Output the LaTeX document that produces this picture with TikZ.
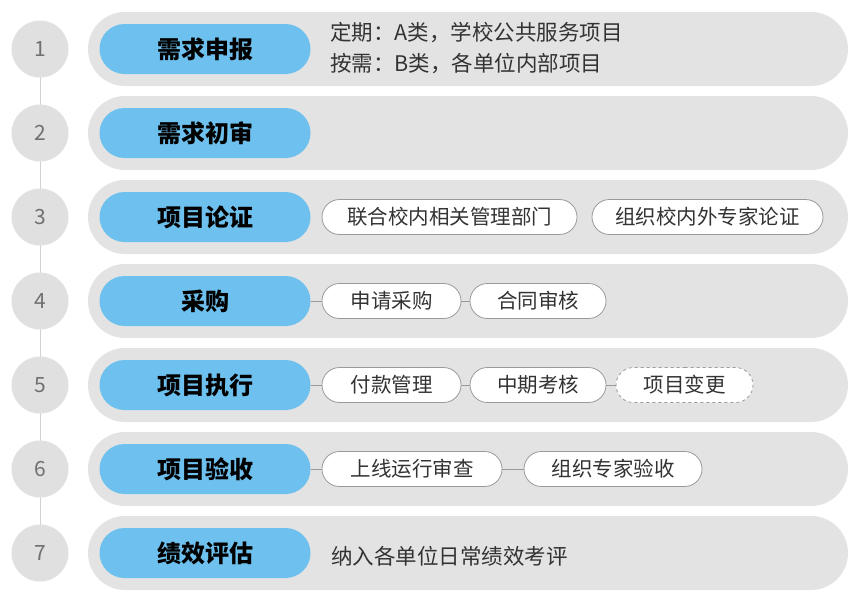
\documentclass[tikz,border=0pt]{standalone}
\usepackage{fontspec}
\setmainfont{Noto Sans CJK SC}
\usetikzlibrary{shapes.misc}
\definecolor{barfill}{HTML}{E3E3E3}
\definecolor{circfill}{HTML}{E0E0E0}
\definecolor{bluefill}{HTML}{6EC1EE}
\definecolor{pillline}{HTML}{9A9A9A}
\definecolor{txt}{HTML}{333333}
\definecolor{numtxt}{HTML}{707070}
\tikzset{
  bar/.style={rounded rectangle, fill=barfill, minimum width=760pt, minimum height=74pt, inner sep=0pt},
  numcirc/.style={circle, fill=circfill, minimum size=57pt, inner sep=0pt, text=numtxt, font=\fontsize{21}{25}\selectfont},
  stage/.style={rounded rectangle, fill=bluefill, minimum width=211pt, minimum height=50pt, inner sep=0pt, font=\bfseries\fontsize{24}{28}\selectfont, text=black},
  sub/.style={rounded rectangle, fill=white, draw=pillline, line width=0.8pt, minimum height=35pt, inner sep=0pt, font=\fontsize{20.5}{24}\selectfont, text=txt},
  subdash/.style={sub, dashed},
  note/.style={anchor=west, inner sep=0pt, font=\fontsize{21.5}{25}\selectfont, text=txt},
  link/.style={draw=pillline, line width=0.6pt},
  spine/.style={draw=circfill!85!gray, line width=1pt}
}
\begin{document}
\begin{tikzpicture}[x=1pt,y=-1pt]
\useasboundingbox (0,0) rectangle (857,603);
% spine
\coordinate (spTop) at (40,49);
\coordinate (spBot) at (40,553);
\draw[spine] (spTop) -- (spBot);
% rows
\foreach \i/\lab in {1/需求申报,2/需求初审,3/项目论证,4/采购,5/项目执行,6/项目验收,7/绩效评估}{
  \pgfmathsetmacro{\yy}{49+84*(\i-1)}
  \node[bar] (bar\i) at (468,\yy) {};
  \node[numcirc] (num\i) at (40,\yy) {\i};
  \node[stage] (st\i) at (205,\yy) {\lab};
}
% row 1
\node[note] (n1a) at (330,33) {定期：A类，学校公共服务项目};
\node[note] (n1b) at (330,64) {按需：B类，各单位内部项目};
% row 3
\node[sub, minimum width=255pt] (p3a) at (449.5,217) {联合校内相关管理部门};
\node[sub, minimum width=231pt] (p3b) at (707.5,217) {组织校内外专家论证};
% row 4
\node[sub, minimum width=139pt] (p4a) at (391.5,301) {申请采购};
\node[sub, minimum width=136pt] (p4b) at (538,301) {合同审核};
\draw[link] (st4.east) -- (p4a.west);
\draw[link] (p4a.east) -- (p4b.west);
% row 5
\node[sub, minimum width=139pt] (p5a) at (391.5,385) {付款管理};
\node[sub, minimum width=136pt] (p5b) at (538,385) {中期考核};
\node[subdash, minimum width=137pt] (p5c) at (684.5,385) {项目变更};
\draw[link] (st5.east) -- (p5a.west);
\draw[link] (p5a.east) -- (p5b.west);
\draw[link] (p5b.east) -- (p5c.west);
% row 6
\node[sub, minimum width=180pt] (p6a) at (412,469) {上线运行审查};
\node[sub, minimum width=178pt] (p6b) at (613,469) {组织专家验收};
\draw[link] (st6.east) -- (p6a.west);
\draw[link] (p6a.east) -- (p6b.west);
% row 7
\node[note] (n7) at (331,556) {纳入各单位日常绩效考评};
\end{tikzpicture}
\end{document}
